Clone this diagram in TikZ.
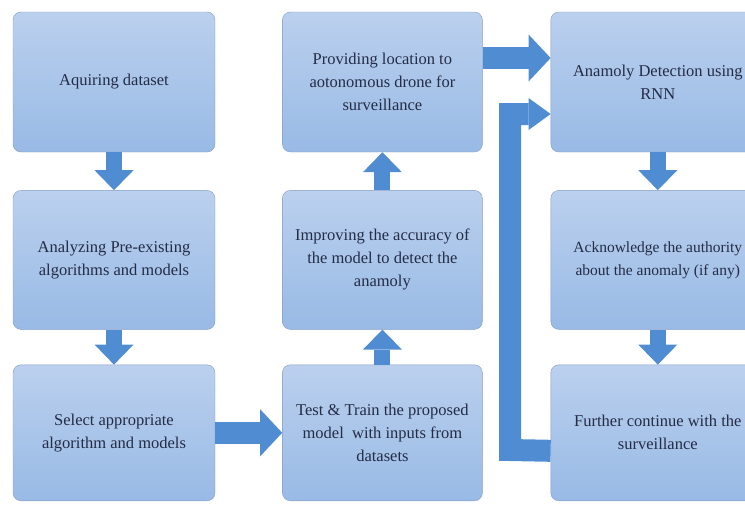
\documentclass[tikz,border=0pt]{standalone}
\usepackage{fontspec}
\setmainfont{Liberation Serif}
\usepackage{tikz}
\usetikzlibrary{arrows.meta,positioning}
\definecolor{boxtop}{RGB}{187,208,238}
\definecolor{boxbot}{RGB}{152,186,229}
\definecolor{boxline}{RGB}{132,156,196}
\definecolor{arrowblue}{RGB}{80,140,210}
\definecolor{txt}{RGB}{36,44,70}

\begin{document}
\begin{tikzpicture}[
  x=1pt, y=-1pt,
  stage/.style={draw=boxline,rounded corners=8pt,top color=boxtop,bottom color=boxbot,
    text=txt,align=center,inner sep=2pt,font=\fontsize{16.5}{23}\selectfont},
  blk/.style={line width=#1,draw=arrowblue,line join=miter},
  down/.style={blk=16pt,-{Triangle[width=39pt,length=20pt,line width=0pt]}},
  side/.style={blk=22pt,-{Triangle[width=47pt,length=22pt,line width=0pt]}}
]
\useasboundingbox (0,0) rectangle (745,504);
% left column
\node[stage,minimum width=202pt,minimum height=140pt] (n1) at (114,82) {Aquiring dataset};
\node[stage,minimum width=202pt,minimum height=139pt,below=38pt of n1] (n2)
  {Analyzing Pre-existing\\algorithms and models};
\node[stage,minimum width=202pt,minimum height=136pt,below=35pt of n2] (n3)
  {Select appropriate\\algorithm and models};
% middle column
\node[stage,minimum width=200pt,minimum height=136pt,right=67pt of n3] (n4)
  {Test \& Train the proposed\\model\ \ with inputs from\\datasets};
\node[stage,minimum width=200pt,minimum height=139pt,right=67pt of n2] (n5)
  {Improving the accuracy of\\the model to detect the\\anamoly};
\node[stage,minimum width=200pt,minimum height=140pt,right=67pt of n1] (n6)
  {Providing location to\\aotonomous drone for\\surveillance};
% right column (runs past the edge)
\node[stage,minimum width=214pt,minimum height=140pt,right=68pt of n6] (n7)
  {Anamoly Detection using\\RNN};
\node[stage,minimum width=214pt,minimum height=139pt,right=68pt of n5,
  font=\fontsize{15.5}{23}\selectfont] (n8)
  {Acknowledge the authority\\about the anomaly (if any)};
\node[stage,minimum width=214pt,minimum height=136pt,right=68pt of n4] (n9)
  {Further continue with the\\surveillance};
% block arrows
\draw[down] (n1) -- (n2);
\draw[down] (n2) -- (n3);
\draw[side] (n3) -- (n4);
\draw[down] (n4) -- (n5);
\draw[down] (n5) -- (n6);
\draw[side] ([yshift=24pt]n6.east) -- ([yshift=24pt]n7.west);
\draw[down] (n7) -- (n8);
\draw[down] (n8) -- (n9);
% loop back from the last step
\coordinate (bend) at (510,450);
\draw[blk=22pt,-{Triangle[width=32pt,length=22pt,line width=0pt]}]
  ([yshift=-18pt]n9.west) -- (bend) |- ([yshift=-32pt]n7.west);
\end{tikzpicture}
\end{document}
